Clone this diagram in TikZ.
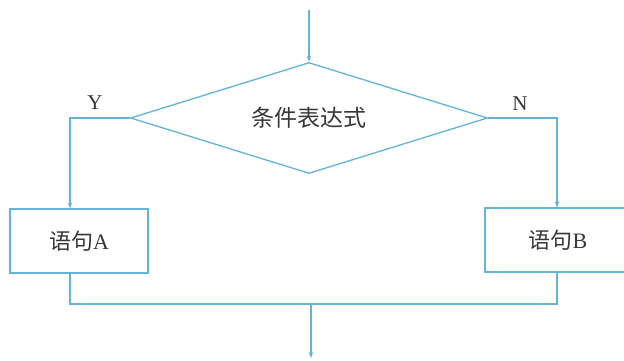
\documentclass[tikz,border=0pt]{standalone}
\usepackage{fontspec}
\setmainfont{Liberation Serif}
\newfontfamily\cjk{Noto Sans CJK SC}
\usetikzlibrary{arrows.meta,shapes.geometric}
\definecolor{flow}{RGB}{100,178,215}
\definecolor{txt}{RGB}{55,55,55}
\begin{document}
\begin{tikzpicture}[x=1pt,y=-1pt,
  line/.style={draw=flow,line width=1.3pt},
  arr/.style={line,-{Stealth[length=6pt,width=4.5pt]}},
  stmt/.style={draw=flow,line width=1.3pt,minimum width=138pt,minimum height=64pt,inner sep=0pt,text=txt,font=\fontsize{22}{24}\selectfont},
  cond/.style={diamond,aspect=3.2,draw=flow,line width=1.3pt,minimum width=357pt,minimum height=111pt,inner sep=0pt,text=txt,font=\fontsize{23}{24}\selectfont},
  lbl/.style={text=txt,font=\fontsize{21}{22}\selectfont,inner sep=0pt}]
\useasboundingbox (0,0) rectangle (624,360);
\node[cond] (c) at (309,118) {\cjk 条件表达式};
\coordinate (start) at (c.north |- 0,10);
\node[stmt] (a) at (79,241) {\cjk 语句\rmfamily A};
\node[stmt,minimum width=146pt] (b) at (558,240) {\cjk 语句\rmfamily B};
\coordinate (ya) at (70,118);
\coordinate (nb) at (557,118);
\coordinate (merge) at (311,304);
\coordinate (end) at (311,358);
\node[lbl] (y) at (95,103) {Y};
\node[lbl] (n) at (520,104) {N};
\draw[arr] (start) -- (c.north);
\draw[arr] (c.west) -- (ya) -- (ya |- a.north);
\draw[arr] (c.east) -- (nb) -- (nb |- b.north);
\draw[line] (ya |- a.south) -- (ya |- merge) -- (nb |- merge) -- (nb |- b.south);
\draw[arr] (merge) -- (end);
\end{tikzpicture}
\end{document}
